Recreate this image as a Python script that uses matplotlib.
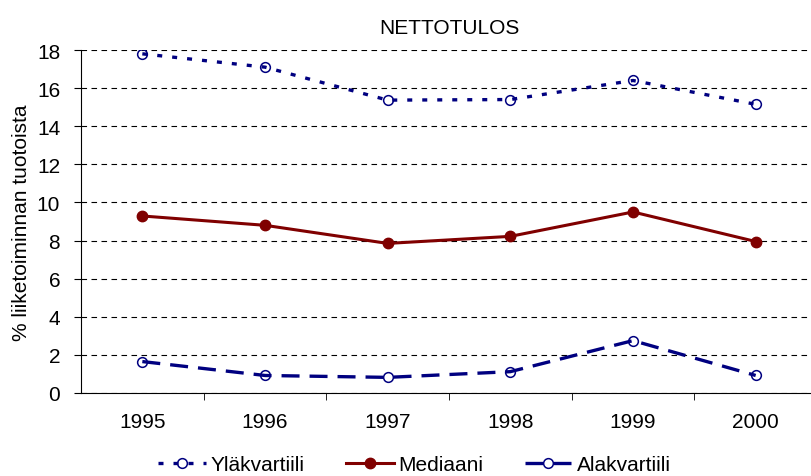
import numpy as np
import matplotlib.pyplot as plt
plt.rcParams.update({'font.size': 15, 'font.family': ['Liberation Sans', 'DejaVu Sans']})

years = ['1995', '1996', '1997', '1998', '1999', '2000']
ylakvartiili = [17.8, 17.1, 15.37, 15.4, 16.4, 15.15]
mediaani = [9.29, 8.8, 7.85, 8.22, 9.5, 7.95]
alakvartiili = [1.65, 0.92, 0.82, 1.12, 2.75, 0.92]

fig = plt.figure(figsize=(8.12, 4.77), dpi=100)
ax = fig.add_axes([81/812, 1-394/477, 736/812, 343/477])

x = np.arange(len(years))
ax.plot(x, ylakvartiili, color='#000080', lw=2.4, ls=(0, (1.5, 3)),
        marker='o', ms=7, mfc='none', mec='#000080', mew=1.1, label='Yläkvartiili')
ax.plot(x, mediaani, color='#800000', lw=2.2, marker='o', ms=7.5,
        mfc='#800000', mec='#800000', label='Mediaani')
ax.plot(x, alakvartiili, color='#000080', lw=2.4, ls=(0, (5.4, 3)),
        marker='o', ms=7, mfc='none', mec='#000080', mew=1.1, label='Alakvartiili')

ax.set_xlim(-0.5, 5.5)
ax.set_ylim(0, 18)
ax.set_yticks(np.arange(0, 19, 2))
ax.set_xticks(x)
ax.set_xticklabels(years)
ax.set_xticks(np.arange(0.5, 5.5, 1), minor=True)
ax.tick_params(axis='x', which='major', length=0, pad=14)
ax.tick_params(axis='x', which='minor', length=5, direction='out')
ax.tick_params(axis='y', length=5, direction='out', pad=10)
ax.yaxis.grid(True, color='black', ls=(0, (5, 4)), lw=0.8)
ax.set_axisbelow(True)
for s in ['top', 'right']:
    ax.spines[s].set_visible(False)

ax.set_ylabel('% liiketoiminnan tuotoista', labelpad=4)
ax.set_title('NETTOTULOS', fontsize=15, pad=12)
fig.legend(loc='center left', bbox_to_anchor=(158/812, 1-466/477), ncol=3, frameon=False,
           handlelength=2.3, columnspacing=2.0, handletextpad=0.2,
           borderaxespad=0, borderpad=0)

plt.savefig('out.png', dpi=100)
